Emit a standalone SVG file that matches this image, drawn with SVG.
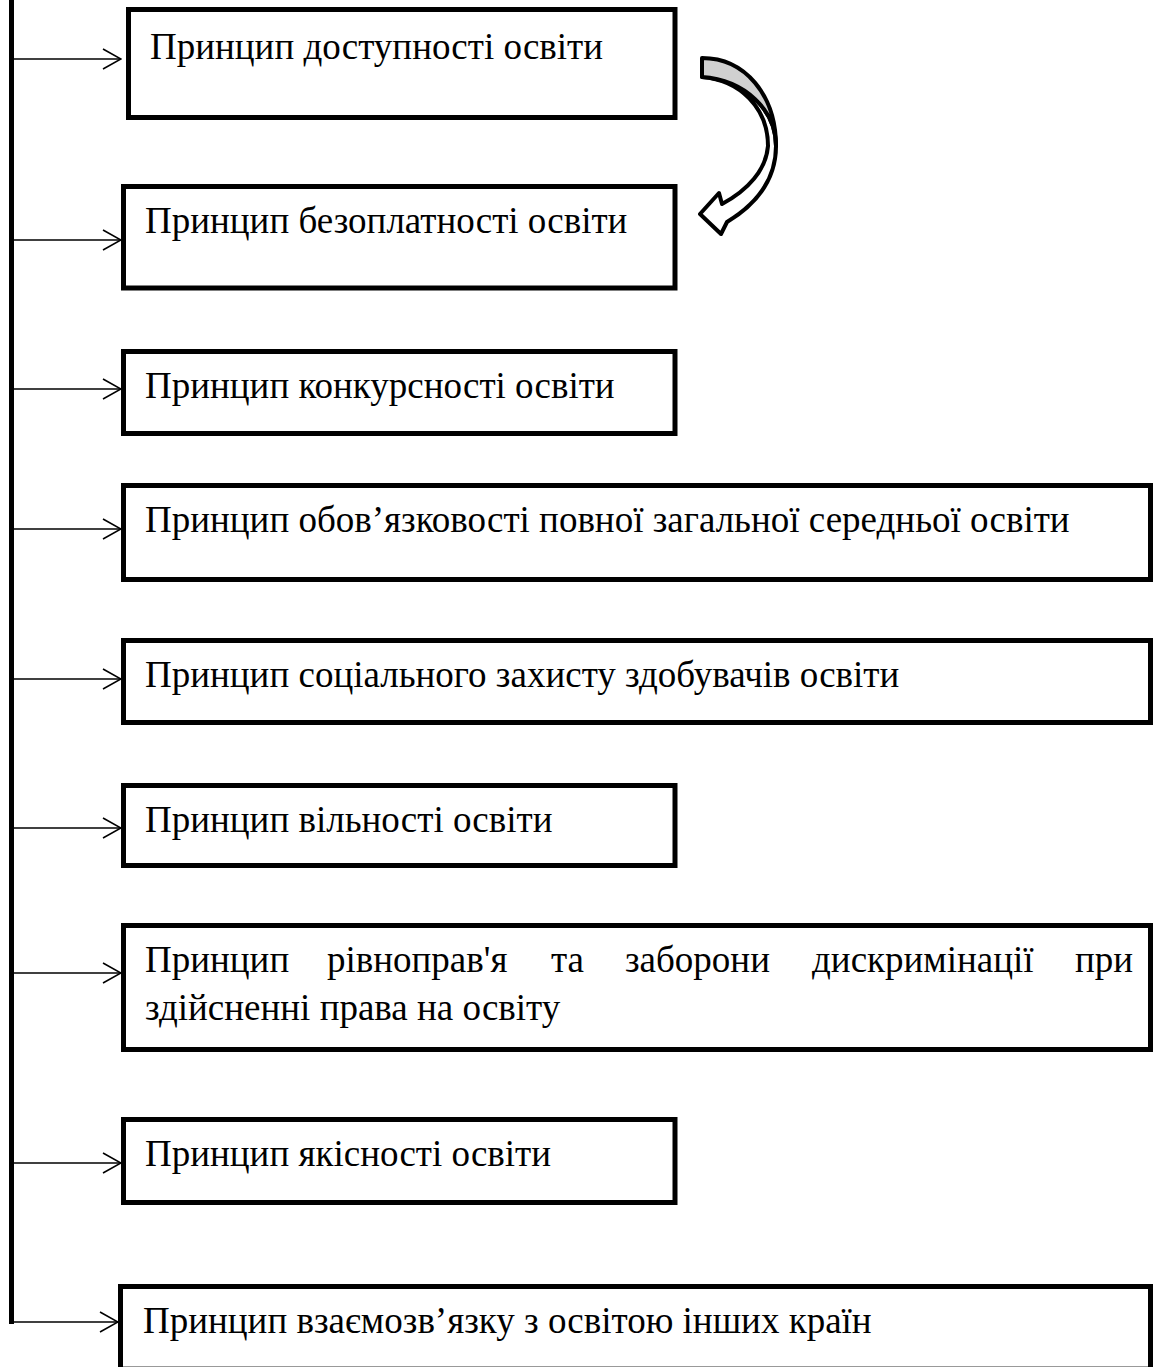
<svg xmlns="http://www.w3.org/2000/svg" width="1154" height="1367" viewBox="0 0 1154 1367">
<style>
.box{fill:#fff;stroke:#000;stroke-width:5}
.t{font-family:"Liberation Serif","Times New Roman",serif;font-size:37px;fill:#000}
.c{fill:none;stroke:#000;stroke-width:1.6}
.bar{fill:none;stroke:#000;stroke-width:5}
</style>
<defs>
<marker id="chev" viewBox="0 0 20 22" refX="19" refY="11" markerWidth="20" markerHeight="22" markerUnits="userSpaceOnUse" orient="auto">
<path d="M1,1 L19,11 L1,21" fill="none" stroke="#000" stroke-width="1.6"/>
</marker>
</defs>
<rect width="1154" height="1367" fill="#fff"/>
<g id="connectors">
<line class="bar" x1="11.5" y1="0" x2="11.5" y2="1324"/>
<line class="c" x1="13" y1="59" x2="121" y2="59" marker-end="url(#chev)"/>
<line class="c" x1="13" y1="240" x2="121" y2="240" marker-end="url(#chev)"/>
<line class="c" x1="13" y1="389" x2="121" y2="389" marker-end="url(#chev)"/>
<line class="c" x1="13" y1="529" x2="121" y2="529" marker-end="url(#chev)"/>
<line class="c" x1="13" y1="679" x2="121" y2="679" marker-end="url(#chev)"/>
<line class="c" x1="13" y1="828" x2="121" y2="828" marker-end="url(#chev)"/>
<line class="c" x1="13" y1="973" x2="121" y2="973" marker-end="url(#chev)"/>
<line class="c" x1="13" y1="1163" x2="121" y2="1163" marker-end="url(#chev)"/>
<line class="c" x1="9" y1="1322" x2="118" y2="1322" marker-end="url(#chev)"/>
</g>
<g id="curved-arrow" stroke="#000" stroke-width="4" stroke-linejoin="round">
<path d="M702,77 C745,80 776,110 776,146 C776,180 755,205 727,222 L721,234 L700,214 L719,193 L722,204 C748,190 766,170 768,146 C768,108 740,80 702,77 Z" fill="#fff"/>
<path d="M702,58 C745,58 776,95 776,146 C776,110 745,80 702,77 Z" fill="#d0d0d0"/>
</g>
<g id="n1"><rect class="box" x="128.5" y="9.5" width="546.5" height="108"/><text class="t" x="150" y="59">Принцип доступності освіти</text></g>
<g id="n2"><rect class="box" x="123.5" y="186.5" width="551.5" height="101.5"/><text class="t" x="145" y="233">Принцип безоплатності освіти</text></g>
<g id="n3"><rect class="box" x="123.5" y="351.5" width="551.5" height="82"/><text class="t" x="145" y="398">Принцип конкурсності освіти</text></g>
<g id="n4"><rect class="box" x="123.5" y="485.5" width="1027" height="94"/><text class="t" x="145" y="532">Принцип обов’язковості повної загальної середньої освіти</text></g>
<g id="n5"><rect class="box" x="123.5" y="640.5" width="1027" height="82"/><text class="t" x="145" y="687">Принцип соціального захисту здобувачів освіти</text></g>
<g id="n6"><rect class="box" x="123.5" y="785.5" width="551.5" height="80"/><text class="t" x="145" y="832">Принцип вільності освіти</text></g>
<g id="n7"><rect class="box" x="123.5" y="925.5" width="1027" height="124"/>
<text class="t" y="972"><tspan x="145">Принцип</tspan><tspan x="327">рівноправ'я</tspan><tspan x="551">та</tspan><tspan x="625">заборони</tspan><tspan x="812">дискримінації</tspan><tspan x="1075">при</tspan></text>
<text class="t" x="145" y="1020">здійсненні права на освіту</text></g>
<g id="n8"><rect class="box" x="123.5" y="1119.5" width="551.5" height="83"/><text class="t" x="145" y="1166">Принцип якісності освіти</text></g>
<g id="n9"><rect class="box" x="120.5" y="1286.5" width="1030" height="100"/><line x1="123" y1="1366.5" x2="1148" y2="1366.5" stroke="#999" stroke-width="1"/><text class="t" x="143" y="1333">Принцип взаємозв’язку з освітою інших країн</text></g>
</svg>
